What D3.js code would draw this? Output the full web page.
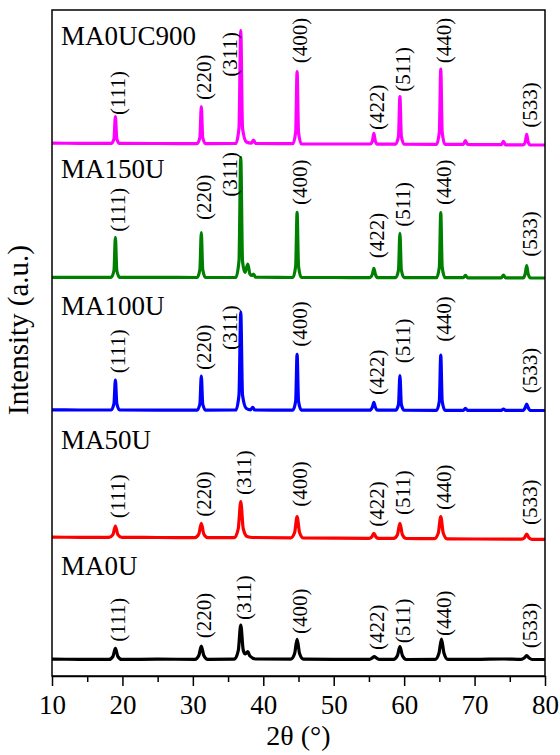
<!DOCTYPE html>
<html>
<head>
<meta charset="utf-8">
<script src="https://cdn.jsdelivr.net/npm/d3@7"></script>
<style>
  text { font-family: "Liberation Serif", "Times New Roman", "Tinos", serif !important; }
</style>
</head>
<body style="margin:0">
<svg id="chart" width="560" height="755"></svg>
<script>
// ---------- DATA ----------
const seriesNames = ["MA0U", "MA50U", "MA100U", "MA150U", "MA0UC900"];
const seriesColors = ["#000000", "#ff0000", "#0000ff", "#008000", "#ff00ff"];
const seriesOffsets = [0, 1220, 2490, 3820, 5160];   // vertical stacking (a.u.)
const nameLevels = [1010, 1050, 1120, 1157, 1150];   // name label level above offset (a.u.)

const hklLabels = ["(111)", "(220)", "(311)", "(400)", "(422)", "(511)", "(440)", "(533)"];
// 2θ used for the label column of each reflection, per series
const labelTheta = [
  [19.0, 31.2, 36.8, 44.8, 55.7, 59.4, 65.3, 77.4],
  [19.0, 31.2, 36.8, 44.8, 55.7, 59.4, 65.2, 77.4],
  [19.0, 31.2, 34.9, 44.8, 55.7, 59.4, 65.2, 77.4],
  [19.0, 31.2, 34.9, 44.8, 55.7, 59.4, 65.2, 77.4],
  [19.0, 31.2, 34.9, 44.8, 55.7, 59.4, 65.2, 77.4]
];
// intensity level (a.u., above series offset) where each hkl label starts
const labelLevels = [
  [343, 377, 560, 420, 260, 327, 400, 277],
  [357, 373, 590, 473, 273, 390, 440, 290],
  [537, 570, 770, 803, 320, 637, 853, 337],
  [623, 740, 973, 890, 357, 673, 890, 373],
  [450, 600, 833, 967, 300, 683, 967, 323]
];

// Patterns: [2θ, intensity (a.u.)]
const dataMA0U = [[10,168],[14,167],[18.1,166],[18.65,195],[19.0,277],[19.35,195],[19.9,166],[25,168],[30.3,167],[30.85,205],[31.2,300],[31.55,205],[32.1,167],[35.9,168],[36.45,255],[36.8,510],[37.15,260],[37.45,220],[37.8,243],[38.1,200],[38.9,170],[43.9,168],[44.45,225],[44.8,367],[45.15,225],[45.7,168],[50,167],[55.1,167],[55.45,180],[55.75,193],[56.1,178],[56.5,166],[58.5,166],[59.05,205],[59.4,293],[59.75,205],[60.3,165],[64.4,166],[64.95,230],[65.3,370],[65.65,230],[66.2,166],[70,166],[74.1,170],[76.6,166],[77.05,180],[77.4,203],[77.75,180],[78.2,165],[80,165]];
const dataMA50U = [[10,168],[14,167],[18.1,166],[18.65,194],[19.0,280],[19.35,194],[19.9,166],[25,165],[30.3,164],[30.85,200],[31.2,307],[31.55,200],[32.1,164],[35.9,164],[36.45,255],[36.8,523],[37.15,255],[37.7,175],[38.5,165],[43.9,162],[44.45,215],[44.8,373],[45.15,215],[45.7,160],[50,158],[55.0,157],[55.4,170],[55.7,207],[56.0,170],[56.4,156],[58.5,156],[59.05,193],[59.4,307],[59.75,193],[60.3,155],[64.3,154],[64.85,210],[65.2,373],[65.55,210],[66.1,152],[70,150],[76.6,148],[77.05,160],[77.4,200],[77.75,160],[78.2,147],[80,147]];
const dataMA100U = [[10,171],[14,170],[18.4,170],[18.8,235],[19.0,470],[19.2,235],[19.6,170],[25,169],[30.6,169],[31.0,230],[31.2,510],[31.4,230],[31.8,169],[36.1,170],[36.55,320],[36.8,1147],[37.05,320],[37.6,185],[38.2,172],[38.5,197],[38.8,170],[44.2,169],[44.6,260],[44.8,727],[45.0,260],[45.4,169],[50,168],[55.1,168],[55.5,200],[55.7,247],[55.9,200],[56.2,168],[58.8,168],[59.2,225],[59.4,513],[59.6,225],[60.0,168],[64.6,167],[65.0,260],[65.2,720],[65.4,260],[65.8,167],[68.4,167],[68.7,187],[69.0,166],[73.8,166],[74.1,180],[74.4,166],[76.9,166],[77.2,195],[77.4,230],[77.6,195],[77.9,166],[80,165]];
const dataMA150U = [[10,167],[14,167],[18.4,167],[18.8,235],[19.0,567],[19.2,235],[19.6,166],[25,166],[30.6,165],[31.0,245],[31.2,613],[31.4,245],[31.8,165],[36.1,166],[36.55,330],[36.8,1367],[37.05,330],[37.4,215],[37.8,300],[38.1,200],[38.4,185],[38.6,200],[38.9,168],[44.2,165],[44.6,280],[44.8,817],[45.0,280],[45.4,165],[50,165],[55.1,164],[55.5,200],[55.7,257],[55.9,200],[56.2,164],[58.8,164],[59.2,240],[59.4,607],[59.6,240],[60.0,164],[64.6,163],[65.0,270],[65.2,813],[65.4,270],[65.8,163],[68.4,163],[68.7,187],[69.0,162],[73.8,162],[74.1,190],[74.4,162],[76.9,162],[77.2,205],[77.4,283],[77.6,205],[77.9,161],[80,160]];
const dataMA0UC900 = [[10,168],[14,167],[18.4,166],[18.8,210],[19.0,433],[19.2,210],[19.6,166],[25,165],[30.6,164],[31.0,225],[31.2,533],[31.4,225],[31.8,164],[36.1,165],[36.55,320],[36.8,1293],[37.05,320],[37.6,180],[38.3,168],[38.6,200],[38.9,166],[44.2,163],[44.6,280],[44.8,883],[45.0,280],[45.4,162],[50,160],[55.2,160],[55.5,190],[55.7,267],[55.9,190],[56.2,159],[58.8,159],[59.2,240],[59.4,633],[59.6,240],[60.0,158],[64.6,157],[65.0,280],[65.2,910],[65.4,280],[65.8,156],[68.4,156],[68.7,193],[69.0,155],[73.8,153],[74.1,187],[74.4,152],[76.9,152],[77.2,180],[77.4,257],[77.6,180],[77.9,150],[80,150]];
const seriesData = [dataMA0U, dataMA50U, dataMA100U, dataMA150U, dataMA0UC900];

const xTicks = [10, 20, 30, 40, 50, 60, 70, 80];
const xMinorTicks = [15, 25, 35, 45, 55, 65, 75];
const xTitle = "2θ (°)";
const yTitle = "Intensity (a.u.)";

// ---------- LAYOUT ----------
const L = 52, R = 545, T = 10, B = 676;
const svg = d3.select("#chart");
const x = d3.scaleLinear().domain([10, 80]).range([L, R]);
const y = d3.scaleLinear().domain([0, 6660]).range([B, T]);
const st = size => `font-family: 'Liberation Serif', 'Times New Roman', serif; font-size: ${size}px;`;

// series lines
const line = d3.line().x(d => x(d[0])).y(d => y(d[1])).curve(d3.curveMonotoneX);
seriesData.forEach((data, i) => {
  const off = seriesOffsets[i];
  svg.append("path")
    .datum(data.map(d => [d[0], d[1] + off]))
    .attr("d", line)
    .attr("fill", "none")
    .attr("stroke", seriesColors[i])
    .attr("stroke-width", 3.2)
    .attr("stroke-linejoin", "round");
});

// hkl labels and series names
seriesData.forEach((data, i) => {
  const off = seriesOffsets[i];
  hklLabels.forEach((lab, j) => {
    const cx = x(labelTheta[i][j]) + 3;
    const by = y(labelLevels[i][j] + off);
    svg.append("text")
      .attr("transform", `translate(${cx},${by}) rotate(-90)`)
      .attr("text-anchor", "start")
      .attr("dy", "0.33em")
      .attr("style", st(21))
      .text(lab);
  });
  svg.append("text")
    .attr("x", 61)
    .attr("y", y(nameLevels[i] + off))
    .attr("style", st(27))
    .text(seriesNames[i]);
});

// frame
svg.append("rect")
  .attr("x", L).attr("y", T).attr("width", R - L).attr("height", B - T)
  .attr("fill", "none").attr("stroke", "#000").attr("stroke-width", 1.5);

// x axis (ticks + labels drawn from the scale)
const xAxis = svg.append("g").attr("transform", `translate(0,${B})`)
  .call(d3.axisBottom(x).tickValues(xTicks).tickSize(10).tickSizeOuter(0).tickFormat(d3.format("d")));
xAxis.attr("font-family", null).attr("font-size", null);
xAxis.select(".domain").attr("stroke-width", 1.5);
xAxis.selectAll(".tick line").attr("stroke-width", 1.5);
xAxis.selectAll(".tick text")
  .attr("y", 38).attr("dy", 0)
  .attr("fill", "#000")
  .attr("style", st(27));
const xMinor = svg.append("g").attr("transform", `translate(0,${B})`)
  .call(d3.axisBottom(x).tickValues(xMinorTicks).tickSize(6).tickSizeOuter(0).tickFormat(""));
xMinor.select(".domain").remove();
xMinor.selectAll(".tick line").attr("stroke-width", 1.5);

// titles
svg.append("text")
  .attr("x", (L + R) / 2).attr("y", 745)
  .attr("text-anchor", "middle")
  .attr("style", st(28))
  .text(xTitle);
svg.append("text")
  .attr("transform", `translate(28,330) rotate(-90)`)
  .attr("text-anchor", "middle")
  .attr("style", st(29))
  .text(yTitle);
</script>
</body>
</html>
